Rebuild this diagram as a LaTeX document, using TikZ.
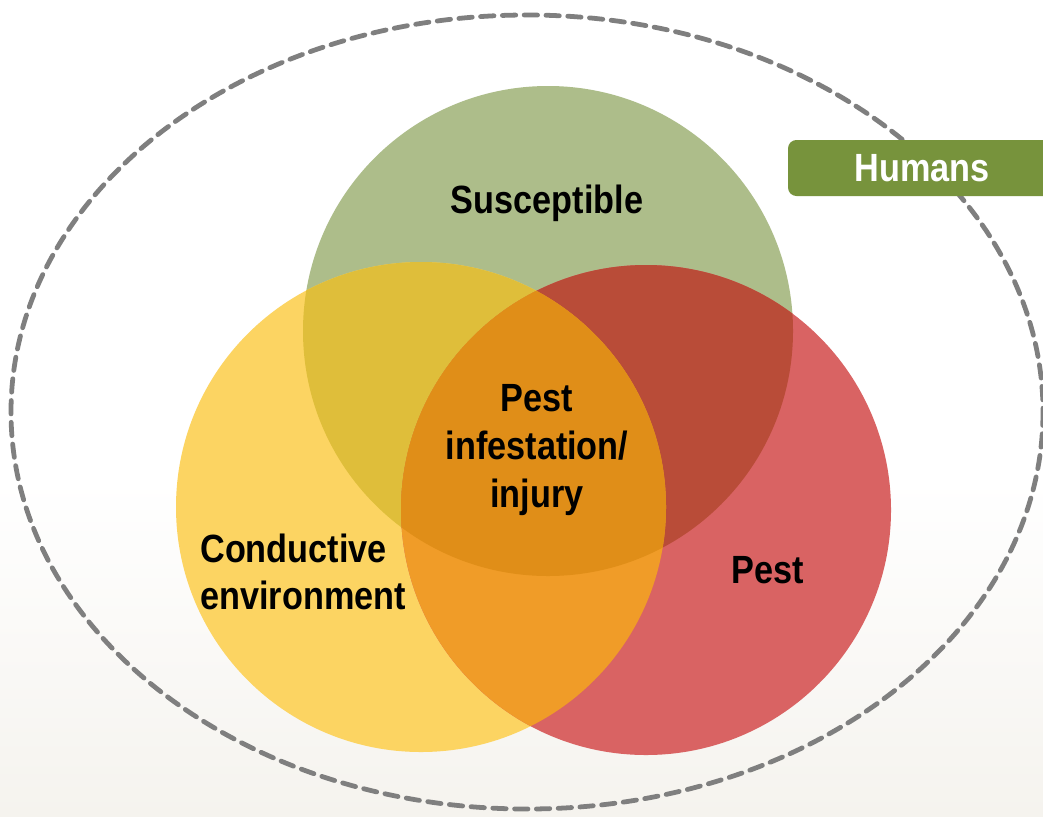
\documentclass[tikz,border=0pt]{standalone}
\usepackage{fontspec}
\setmainfont{Liberation Sans}
\newfontfamily\labelfont[FakeStretch=0.87]{Liberation Sans}
\begin{document}
\definecolor{gOnly}{HTML}{ADBD8A}
\definecolor{yOnly}{HTML}{FCD462}
\definecolor{rOnly}{HTML}{D96363}
\definecolor{gyCol}{HTML}{DFBE3A}
\definecolor{grCol}{HTML}{B94C38}
\definecolor{yrCol}{HTML}{F09C28}
\definecolor{gyrCol}{HTML}{E08E18}
\definecolor{humanGreen}{HTML}{77933C}
\definecolor{dashGray}{HTML}{7F7F7F}
\definecolor{sand}{HTML}{F5F3EE}
\begin{tikzpicture}[x=0.025cm,y=-0.025cm,
  lbl/.style={font=\labelfont\bfseries\fontsize{28}{34}\selectfont, text=black, align=center, inner sep=0pt},
  ring/.style={circle, minimum size=490*0.025cm, inner sep=0pt, draw=none}]
  % page and faint sandy ground towards the bottom
  \path[use as bounding box] (0,0) rectangle (1043,816);
  \fill[white] (0,0) rectangle (1043,816);
  \shade[top color=white, bottom color=sand] (0,480) rectangle (1043,816);

  % the three sets
  \node[ring, fill=gOnly] (susc) at (548,331) {};
  \node[ring, fill=yOnly] (cond) at (421,507) {};
  \node[ring, fill=rOnly] (pest) at (646,510) {};

  % pairwise overlaps
  \begin{scope}
    \clip (548,331) circle (245);
    \fill[gyCol] (421,507) circle (245);
  \end{scope}
  \begin{scope}
    \clip (548,331) circle (245);
    \fill[grCol] (646,510) circle (245);
  \end{scope}
  \begin{scope}
    \clip (421,507) circle (245);
    \fill[yrCol] (646,510) circle (245);
  \end{scope}
  % common core
  \begin{scope}
    \clip (548,331) circle (245);
    \clip (421,507) circle (245);
    \fill[gyrCol] (646,510) circle (245);
  \end{scope}

  % the human sphere around everything
  \draw[dashGray, line width=3.4pt, dash pattern=on 9.5pt off 6pt, line cap=round]
    (527,412) ellipse [x radius=516, y radius=397];

  \fill[humanGreen, rounded corners=6pt] (788,140) rectangle (1060,196);
  \node[lbl, text=white] (humans) at (922,168) {Humans};

  % labels
  \node[lbl] (tSusc) at (547,203) {Susceptible};
  \node[lbl] (tCore) at (537,450) {Pest\\infestation/\\injury};
  \node[lbl, align=left, anchor=west] (tCond) at (200,572) {Conductive\\environment};
  \node[lbl] (tPest) at (768,570) {Pest};
\end{tikzpicture}
\end{document}
